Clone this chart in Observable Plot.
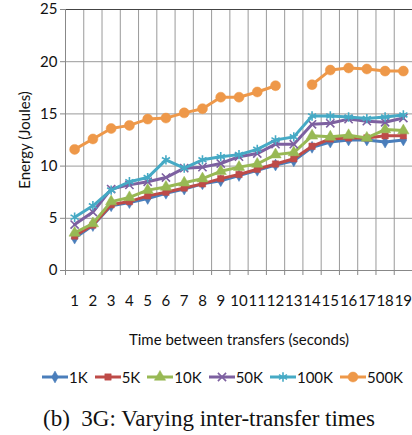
<!DOCTYPE html>
<html>
<head>
<meta charset="utf-8">
<script src="https://cdn.jsdelivr.net/npm/d3@7"></script>
<script src="https://cdn.jsdelivr.net/npm/@observablehq/plot@0.6"></script>
<style>
  body { margin: 0; background: white; }
  #wrap { position: relative; width: 412px; height: 435px; font-family: Lato, sans-serif; overflow: hidden; }
  #chart { position: absolute; left: 0; top: 0; }
  #legend { position: absolute; left: 42px; top: 368px; display: flex; gap: 7px; align-items: center; font-size: 15px; color: #111; }
  #legend .item { display: flex; align-items: center; gap: 1px; }
  #caption { position: absolute; left: 43px; top: 406px; line-height: 26px; font-family: "Liberation Serif", serif; font-size: 23px; color: #111; white-space: pre; }
</style>
</head>
<body>
<div id="wrap">
  <div id="chart"></div>
  <div id="legend"></div>
  <div id="caption">(b)  3G: Varying inter-transfer times</div>
</div>
<script>
const categories = [1,2,3,4,5,6,7,8,9,10,11,12,13,14,15,16,17,18,19];
const seriesNames = ["1K", "5K", "10K", "50K", "100K", "500K"];
const s1K   = [3.1, 4.3, 6.2, 6.5, 6.9, 7.4, 7.8, 8.3, 8.6, 9.1, 9.6, 10.1, 10.5, 11.8, 12.3, 12.5, 12.5, 12.3, 12.5];
const s5K   = [3.3, 4.35, 6.3, 6.6, 7.15, 7.5, 7.9, 8.3, 8.8, 9.2, 9.7, 10.2, 10.7, 11.9, 12.6, 12.7, 12.7, 12.9, 12.9];
const s10K  = [3.6, 4.5, 6.6, 7.0, 7.7, 8.0, 8.4, 8.8, 9.5, 9.9, 10.2, 11.1, 11.3, 12.9, 12.8, 12.95, 12.7, 13.5, 13.4];
const s50K  = [4.4, 5.6, 7.8, 8.2, 8.5, 8.9, 9.8, 9.9, 10.25, 10.9, 11.2, 12.1, 12.1, 14.0, 14.1, 14.5, 14.3, 14.2, 14.6];
const s100K = [5.1, 6.2, 7.7, 8.5, 8.9, 10.6, 9.8, 10.6, 10.9, 11.1, 11.6, 12.5, 12.8, 14.8, 14.8, 14.7, 14.55, 14.7, 14.9];
const s500K = [11.6, 12.6, 13.6, 13.9, 14.5, 14.6, 15.1, 15.5, 16.6, 16.6, 17.1, 17.7, null, 17.8, 19.2, 19.4, 19.3, 19.1, 19.1];
const yTicks = [0, 5, 10, 15, 20, 25];

const seriesValues = [s1K, s5K, s10K, s50K, s100K, s500K];
const colors = ["#4A7EBB", "#BE4B48", "#98B954", "#7D60A0", "#46AAC5", "#EE9849"];
const symbols = ["diamond", "square", "triangle", "times", "asterisk", "circle"];
const filled = [true, true, true, false, false, true];
const radii = [3.6, 3.6, 4.2, 3.8, 4.4, 5];

const boundaries = categories.map(c => c - 0.5).concat([categories[categories.length - 1] + 0.5]);

const marks = [
  Plot.ruleY(yTicks.filter(d => d > 0 && d < 25), {stroke: "#9a9a9a", strokeWidth: 1}),
  Plot.ruleX(boundaries, {stroke: "#9a9a9a", strokeWidth: 1}),
  Plot.ruleY([25], {stroke: "#444", strokeWidth: 1}),
  Plot.ruleX([boundaries[0]], {stroke: "#888", strokeWidth: 1}),
  Plot.ruleY([0], {stroke: "#888", strokeWidth: 1}),
  Plot.axisX(boundaries, {tickSize: 5, tickFormat: () => "", stroke: "#888", label: null}),
  Plot.axisX(categories, {tickSize: 0, tickPadding: 25, fontSize: 15, tickFormat: d => String(d), fill: "#111", label: null}),
  Plot.axisY(yTicks, {tickSize: 5, tickPadding: 3, fontSize: 15, stroke: "#888", fill: "#111", label: null}),
  Plot.text(["Time between transfers (seconds)"], {frameAnchor: "bottom", dy: 70, lineAnchor: "middle", textAnchor: "middle", fontSize: 15, fill: "#111"}),
  Plot.text(["Energy (Joules)"], {frameAnchor: "left", dx: -40, rotate: -90, lineAnchor: "middle", textAnchor: "middle", fontSize: 15, fill: "#111"})
];

seriesNames.forEach((name, k) => {
  const rows = categories.map((c, i) => ({t: c, e: seriesValues[k][i] == null ? NaN : seriesValues[k][i]}));
  marks.push(Plot.line(rows, {x: "t", y: "e", stroke: colors[k], strokeWidth: 3}));
  marks.push(Plot.dot(rows.filter(d => !isNaN(d.e)), {
    x: "t", y: "e", symbol: () => symbols[k], r: radii[k],
    fill: filled[k] ? colors[k] : "none",
    stroke: colors[k], strokeWidth: filled[k] ? 0.5 : 1.6
  }));
});

const chart = Plot.plot({
  width: 412,
  height: 350,
  marginTop: 9,
  marginBottom: 80,
  marginLeft: 65,
  marginRight: 0,
  x: {domain: [boundaries[0], boundaries[boundaries.length - 1]]},
  y: {domain: [0, 25]},
  symbol: {type: "identity"},
  style: {fontFamily: "Lato, sans-serif", fontSize: "15px", background: "white", overflow: "visible"},
  marks
});
document.getElementById("chart").appendChild(chart);

// legend
const legend = document.getElementById("legend");
const d3Symbols = {diamond: d3.symbolDiamond, square: d3.symbolSquare, triangle: d3.symbolTriangle, times: d3.symbolTimes, asterisk: d3.symbolAsterisk, circle: d3.symbolCircle};
seriesNames.forEach((name, k) => {
  const item = document.createElement("div");
  item.className = "item";
  const svg = d3.create("svg").attr("width", 26).attr("height", 14);
  svg.append("line").attr("x1", 0).attr("x2", 26).attr("y1", 7).attr("y2", 7).attr("stroke", colors[k]).attr("stroke-width", 3);
  svg.append("path")
    .attr("transform", "translate(13,7)")
    .attr("d", d3.symbol(d3Symbols[symbols[k]], Math.PI * radii[k] * radii[k])())
    .attr("fill", filled[k] ? colors[k] : "none")
    .attr("stroke", colors[k]).attr("stroke-width", filled[k] ? 0.5 : 1.6);
  item.appendChild(svg.node());
  const span = document.createElement("span");
  span.textContent = name;
  item.appendChild(span);
  legend.appendChild(item);
});
</script>
</body>
</html>
